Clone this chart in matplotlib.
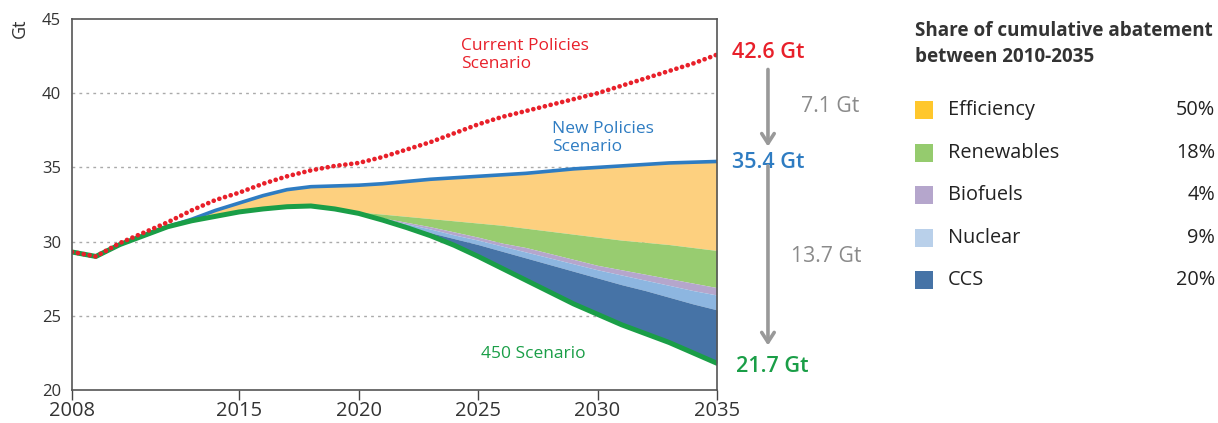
import numpy as np
import matplotlib
matplotlib.use("Agg")
import matplotlib.pyplot as plt
from matplotlib.patches import Rectangle

plt.rcParams['font.family'] = ['Open Sans', 'DejaVu Sans']

# data (Gt CO2)
years = np.arange(2008, 2036)
current = [29.3, 29.0, 29.9, 30.6, 31.3, 32.1, 32.8, 33.3, 33.9, 34.4, 34.8, 35.1, 35.3,
           35.7, 36.2, 36.7, 37.3, 37.9, 38.4, 38.8, 39.2, 39.6, 40.0, 40.5, 41.0, 41.5, 42.0, 42.6]
new_pol = [29.3, 29.0, 29.8, 30.4, 31.0, 31.5, 32.1, 32.6, 33.1, 33.5, 33.7, 33.75, 33.8,
           33.9, 34.05, 34.2, 34.3, 34.4, 34.5, 34.6, 34.75, 34.9, 35.0, 35.1, 35.2, 35.3, 35.35, 35.4]
s450 = [29.3, 29.0, 29.8, 30.4, 31.0, 31.4, 31.7, 32.0, 32.2, 32.35, 32.4, 32.2, 31.9,
        31.45, 30.95, 30.4, 29.75, 29.0, 28.2, 27.4, 26.6, 25.8, 25.1, 24.4, 23.8, 23.2, 22.5, 21.8]

# lower edge of each abatement wedge, 2020-2035 (before 2020 they sit on the 450 line)
eff_low = [32.0, 31.85, 31.7, 31.55, 31.4, 31.25, 31.1, 30.9, 30.7, 30.5, 30.3, 30.1, 29.95, 29.8, 29.6, 29.4]
ren_low = [31.9, 31.6, 31.3, 31.0, 30.65, 30.3, 29.9, 29.6, 29.2, 28.8, 28.4, 28.1, 27.8, 27.5, 27.2, 26.9]
bio_low = [31.9, 31.55, 31.2, 30.85, 30.45, 30.1, 29.7, 29.3, 28.9, 28.5, 28.1, 27.75, 27.4, 27.05, 26.7, 26.4]
nuc_low = [31.9, 31.5, 31.05, 30.6, 30.2, 29.8, 29.35, 28.9, 28.45, 28.0, 27.55, 27.1, 26.7, 26.25, 25.8, 25.4]

labels = ['Efficiency', 'Renewables', 'Biofuels', 'Nuclear', 'CCS']
shares = ['50%', '18%', '4%', '9%', '20%']
fill_cols = ['#FDD07F', '#98CC70', '#B5A6CC', '#8DB6E0', '#4673A6']
legend_cols = ['#FFC72C', '#95CB6E', '#B5A6CC', '#B9D0EA', '#4673A6']

end_vals = ['42.6 Gt', '35.4 Gt', '21.7 Gt']
gaps = ['7.1 Gt', '13.7 Gt']

RED, BLUE, GREEN, GREY = '#E8202A', '#2E7CC2', '#1A9E47', '#999999'

head = list(s450[:12])
edges = [new_pol,
         head + eff_low,
         head + ren_low,
         head + bio_low,
         head + nuc_low,
         s450]

W, H = 1218, 423
fig = plt.figure(figsize=(W / 100, H / 100), dpi=100)
ax = fig.add_axes([72 / W, 1 - 390 / H, (717 - 72) / W, (390 - 19) / H])

for i in range(5):
    ax.fill_between(years, edges[i + 1], edges[i], color=fill_cols[i], lw=0)

ax.plot(years, new_pol, color=BLUE, lw=2.6, solid_capstyle='round')
ax.plot(years, s450, color=GREEN, lw=3.6, solid_capstyle='round')
ax.plot(years, current, color=RED, lw=3.4, linestyle=(0, (0.01, 1.25)),
        dash_capstyle='round')

ax.set_xlim(2008, 2035)
ax.set_ylim(20, 45)
ax.set_xticks([2008, 2015, 2020, 2025, 2030, 2035])
ax.set_yticks([20, 25, 30, 35, 40, 45])
for y in [25, 30, 35, 40]:
    ax.axhline(y, color='#AAAAAA', lw=1, linestyle=(0, (2, 3)), zorder=0)
ax.tick_params(axis='x', direction='out', length=7, width=1, color='#444444',
               labelsize=14.5, labelcolor='#333333', pad=1)
ax.tick_params(axis='y', length=0, labelsize=12, labelcolor='#333333', pad=8)
for s in ax.spines.values():
    s.set_color('#555555')
    s.set_linewidth(1.2)

fig.text(20 / W, 1 - 28 / H, 'Gt', rotation=90, ha='center', va='center',
         fontsize=13, color='#333333')

# scenario names
ax.text(2024.3, 42.55, 'Current Policies\nScenario', color=RED, fontsize=12.5,
        va='center', ha='left', linespacing=1.15)
ax.text(2028.1, 37.0, 'New Policies\nScenario', color=BLUE, fontsize=12.5,
        va='center', ha='left', linespacing=1.15)
ax.text(2025.1, 22.4, '450 Scenario', color=GREEN, fontsize=12.5,
        va='center', ha='left')

# end values and arrows
xa = 2008 + (768 - 72) / 23.89
ax.text(xa, 42.75, end_vals[0], color=RED, fontsize=15.5, fontweight='semibold',
        ha='center', va='center', clip_on=False)
ax.text(xa, 35.3, end_vals[1], color=BLUE, fontsize=15.5, fontweight='semibold',
        ha='center', va='center', clip_on=False)
ax.text(xa + 0.2, 21.6, end_vals[2], color=GREEN, fontsize=15.5, fontweight='semibold',
        ha='center', va='center', clip_on=False)
arrow = dict(arrowstyle='->,head_length=0.7,head_width=0.45', color=GREY, lw=2.6,
             shrinkA=0, shrinkB=0)
ax.annotate('', xy=(xa, 36.4), xytext=(xa, 41.6), arrowprops=arrow, annotation_clip=False)
ax.annotate('', xy=(xa, 23.0), xytext=(xa, 35.1), arrowprops=arrow, annotation_clip=False)
ax.text(xa + 2.6, 39.1, gaps[0], color='#8A8A8A', fontsize=15.3, ha='center',
        va='center', clip_on=False)
ax.text(xa + 2.45, 29.0, gaps[1], color='#8A8A8A', fontsize=15.3, ha='center',
        va='center', clip_on=False)

# legend panel
fig.text(915 / W, 1 - 44 / H, 'Share of cumulative abatement\nbetween 2010-2035',
         fontsize=13.6, fontweight='bold', color='#333333', ha='left', va='center',
         linespacing=1.35)
rows_y = [110, 153, 195, 238, 280]
for lab, sh, col, yp in zip(labels, shares, legend_cols, rows_y):
    fig.patches.append(Rectangle((915 / W, 1 - (yp + 9) / H), 18 / W, 18 / H,
                                 transform=fig.transFigure, color=col, lw=0))
    fig.text(948 / W, 1 - yp / H, lab, fontsize=14.3, color='#222222', ha='left', va='center')
    fig.text(1215 / W, 1 - yp / H, sh, fontsize=14.3, color='#222222', ha='right', va='center')

fig.savefig('out.png', dpi=100)
